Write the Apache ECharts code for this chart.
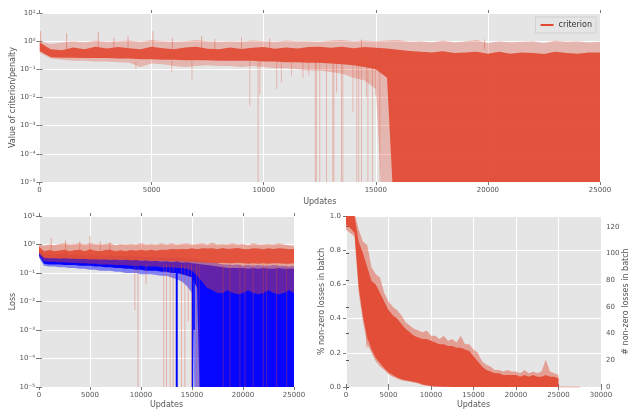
<!DOCTYPE html>
<html>
<head>
<meta charset="utf-8">
<script src="https://cdn.jsdelivr.net/npm/echarts@6.0.0/dist/echarts.min.js"></script>
<style>html,body{margin:0;padding:0;background:#fff}#main{width:630px;height:412px}</style>
</head>
<body>
<div id="main"></div>
<script>
// x positions of the read-off envelope points (updates)
var updates = [0,500,1000,1500,2000,2500,3000,3500,4000,4500,5000,5500,6000,6500,7000,7500,8000,8500,9000,9500,
  10000,10500,11000,11500,12000,12500,13000,13500,14000,14500,15000,15500,16000,16500,17000,17500,18000,18500,19000,19500,
  20000,20500,21000,21500,22000,22500,23000,23500,24000,24500,25000];

// top panel: criterion (outer fringe + dense core), 1e-9 = zero (far below the log axis)
var criterionHi = [1.0,0.8,0.9,1.0,0.9,1.05,0.95,1.0,1.05,0.95,1.1,1.0,0.95,1.0,1.1,1.0,0.95,1.0,0.95,1.05,
  1.0,0.95,1.05,1.0,1.0,0.95,1.05,1.1,1.0,1.05,1.0,1.05,1.1,0.95,1.0,0.9,1.05,0.9,1.0,1.1,
  0.85,1.0,0.9,0.95,1.0,0.85,1.05,0.95,1.0,0.9,0.95];
var criterionCoreHi = [0.9,0.52,0.48,0.6,0.52,0.64,0.55,0.62,0.56,0.52,0.64,0.56,0.52,0.6,0.64,0.54,0.52,0.6,0.53,0.58,
  0.62,0.54,0.6,0.55,0.62,0.64,0.58,0.64,0.56,0.62,0.58,0.55,0.5,0.45,0.42,0.4,0.44,0.38,0.4,0.42,
  0.36,0.42,0.36,0.4,0.38,0.35,0.42,0.38,0.36,0.4,0.4];
var criterionCoreLo = [0.45,0.27,0.26,0.26,0.25,0.25,0.25,0.24,0.24,0.23,0.23,0.22,0.22,0.21,0.21,0.21,0.2,0.2,0.2,0.2,
  0.19,0.19,0.18,0.18,0.17,0.17,0.16,0.15,0.14,0.12,0.1,0.05,1e-9,1e-9,1e-9,1e-9,1e-9,1e-9,1e-9,1e-9,
  1e-9,1e-9,1e-9,1e-9,1e-9,1e-9,1e-9,1e-9,1e-9,1e-9,1e-9];
var criterionLo = [0.4,0.24,0.22,0.2,0.2,0.19,0.19,0.18,0.17,0.12,0.16,0.15,0.13,0.12,0.13,0.14,0.13,0.13,0.12,0.13,
  0.12,0.11,0.11,0.1,0.09,0.09,0.08,0.07,0.05,0.04,0.02,1e-9,1e-9,1e-9,1e-9,1e-9,1e-9,1e-9,1e-9,1e-9,
  1e-9,1e-9,1e-9,1e-9,1e-9,1e-9,1e-9,1e-9,1e-9,1e-9,1e-9];
var criterionSpikes = [[50,2.3],[1210,1.9],[2620,2.1],[3320,1.3],[3950,1.5],[5060,2.3],[5930,1.3],[7230,1.5],
  [7820,1.2],[9010,1.35],[10270,1.25],[14360,1.15],[19850,1.15]];
var criterionDrops = [[4300,0.1],[5900,0.08],[6800,0.045],[9380,0.005],[9750,1e-9],[9830,0.013],[10580,0.02],[10790,0.035],[11240,0.06],
  [11750,0.05],[12010,0.06],[12300,1e-9],[12350,1e-9],[12500,1e-9],[12800,1e-9],[13080,1e-9],[13130,1e-9],
  [13250,0.015],[13470,1e-9],[13530,1e-9],[13980,0.003],[14150,1e-9],[14240,1e-9],[14360,1e-9],[14580,0.01],
  [14650,1e-9],[14850,1e-9],[15000,0.012],[15180,1e-9]];

// bottom left: loss (red) and loss (blue)
var lossRedHi = [1.0,0.9,1.0,0.95,1.05,1.1,1.0,1.05,1.1,1.0,1.1,1.05,1.0,1.05,1.1,0.95,1.05,1.0,1.05,1.0,
  1.1,1.0,1.05,1.0,1.1,1.0,1.1,1.0,1.05,1.1,1.0,1.05,1.1,1.0,1.15,1.0,1.05,1.0,1.1,1.0,
  1.05,0.95,1.1,1.0,1.0,1.05,1.0,1.1,1.0,0.95,0.9];
var lossRedCoreHi = [0.85,0.58,0.64,0.58,0.62,0.66,0.58,0.63,0.66,0.58,0.68,0.6,0.58,0.64,0.66,0.58,0.63,0.58,0.64,0.6,
  0.65,0.6,0.66,0.6,0.66,0.64,0.7,0.68,0.7,0.68,0.74,0.68,0.74,0.72,0.74,0.68,0.76,0.7,0.72,0.76,
  0.7,0.68,0.74,0.72,0.68,0.74,0.7,0.74,0.72,0.68,0.7];
var lossRedCoreLo = [0.5,0.34,0.33,0.33,0.32,0.32,0.32,0.31,0.31,0.31,0.3,0.3,0.3,0.3,0.29,0.29,0.29,0.29,0.28,0.28,
  0.28,0.28,0.27,0.27,0.27,0.27,0.26,0.26,0.26,0.25,0.25,0.24,0.24,0.23,0.23,0.22,0.23,0.22,0.22,0.23,
  0.22,0.21,0.22,0.21,0.22,0.21,0.22,0.22,0.21,0.21,0.22];
var lossRedLo = [0.45,0.26,0.25,0.25,0.24,0.24,0.23,0.23,0.22,0.22,0.21,0.21,0.2,0.2,0.2,0.19,0.19,0.19,0.18,0.18,
  0.18,0.17,0.17,0.17,0.16,0.16,0.16,0.15,0.15,0.14,0.12,0.08,0.05,0.03,0.025,0.02,0.02,0.025,0.02,0.018,
  0.02,0.025,0.02,0.018,0.02,0.025,0.02,0.018,0.02,0.025,0.02];
var lossRedSpikes = [[1200,1.7],[2600,1.4],[4000,1.3],[5000,2.0],[6000,1.3],[6940,1.2]];
var lossRedDrops = [[9400,0.005],[9700,1e-9],[10500,0.04],[12240,1e-9],[12500,1e-9],[12850,1e-9],[13150,1e-9],
  [13970,1e-9],[14300,1e-9],[14630,0.002],[14950,1e-9],[15450,1e-9],[15700,1e-9],
  [18060,1e-9],[18720,1e-9],[19700,1e-9],[20190,1e-9],[21000,1e-9],[21990,1e-9],[22320,1e-9],[23300,1e-9],[24280,1e-9]];
var lossBlueHi = [0.7,0.45,0.45,0.42,0.45,0.5,0.42,0.45,0.42,0.4,0.45,0.4,0.42,0.4,0.42,0.38,0.4,0.38,0.4,0.37,
  0.38,0.36,0.37,0.35,0.36,0.34,0.35,0.33,0.34,0.32,0.32,0.3,0.28,0.26,0.24,0.22,0.2,0.2,0.19,0.2,
  0.18,0.19,0.18,0.19,0.18,0.18,0.19,0.18,0.18,0.17,0.18];
var lossBlueCoreHi = [0.55,0.36,0.33,0.35,0.32,0.35,0.32,0.34,0.31,0.33,0.31,0.32,0.3,0.31,0.29,0.31,0.28,0.3,0.28,0.29,
  0.27,0.28,0.26,0.27,0.25,0.26,0.24,0.26,0.23,0.24,0.22,0.21,0.2,0.19,0.18,0.17,0.16,0.15,0.15,0.15,
  0.15,0.14,0.15,0.14,0.15,0.14,0.14,0.15,0.14,0.14,0.14];
var lossBlueCoreLo = [0.4,0.21,0.2,0.2,0.2,0.19,0.19,0.19,0.18,0.18,0.18,0.17,0.17,0.16,0.16,0.15,0.15,0.14,0.14,0.13,
  0.13,0.12,0.12,0.12,0.11,0.11,0.1,0.1,0.09,0.08,0.07,0.03,1e-9,1e-9,1e-9,1e-9,1e-9,1e-9,1e-9,1e-9,
  1e-9,1e-9,1e-9,1e-9,1e-9,1e-9,1e-9,1e-9,1e-9,1e-9,1e-9];
var lossBlueLo = [0.35,0.18,0.17,0.17,0.16,0.16,0.15,0.15,0.14,0.14,0.13,0.13,0.12,0.12,0.12,0.11,0.11,0.1,0.1,0.1,
  0.09,0.09,0.09,0.085,0.08,0.08,0.07,0.06,0.05,0.035,0.02,1e-9,1e-9,1e-9,1e-9,1e-9,1e-9,1e-9,1e-9,1e-9,
  1e-9,1e-9,1e-9,1e-9,1e-9,1e-9,1e-9,1e-9,1e-9,1e-9,1e-9];
var lossBlueDrops = [[13480,1e-9],[13520,1e-9],[15050,1e-9],[15200,0.001]];

// bottom right: fraction of non-zero losses in batch
var fracHi = [1.02,1.02,1.02,0.92,0.85,0.83,0.7,0.66,0.64,0.55,0.5,0.47,0.45,0.42,0.38,0.36,0.34,0.33,0.32,0.33,
  0.3,0.3,0.28,0.3,0.27,0.28,0.26,0.3,0.25,0.25,0.22,0.2,0.15,0.13,0.12,0.1,0.1,0.09,0.1,0.09,
  0.09,0.08,0.1,0.08,0.09,0.08,0.09,0.16,0.09,0.08,0.07];
var fracCoreHi = [1.0,1.0,1.0,0.85,0.78,0.7,0.62,0.6,0.55,0.5,0.45,0.42,0.4,0.37,0.34,0.32,0.3,0.29,0.28,0.28,
  0.27,0.26,0.25,0.25,0.24,0.24,0.23,0.23,0.22,0.21,0.18,0.15,0.12,0.1,0.09,0.08,0.08,0.07,0.07,0.07,
  0.07,0.06,0.07,0.06,0.07,0.06,0.06,0.07,0.06,0.06,0.05];
var fracCoreLo = [0.95,0.93,0.9,0.58,0.41,0.29,0.22,0.17,0.14,0.11,0.085,0.07,0.055,0.045,0.04,0.035,0.03,0.025,0.015,0.01,
  0.006,0.004,0.003,0.002,0.001,0,0,0,0,0,0,0,0,0,0,0,0,0,0,0,
  0,0,0,0,0,0,0,0,0,0,0];
var fracLo = [0.92,0.9,0.88,0.55,0.38,0.25,0.2,0.15,0.12,0.1,0.075,0.06,0.05,0.04,0.035,0.03,0.025,0.02,0.012,0.008,
  0.005,0,0,0,0,0,0,0,0,0,0,0,0,0,0,0,0,0,0,0,
  0,0,0,0,0,0,0,0,0,0,0];
var fracDrops = [[2450,0.23]];
var tailUpdates = [25000, 27500];
var tailValues = [0, 0];

var RED = '#E24A33';
var TXT = '#555';
var FONT = 'DejaVu Sans';

function clipOf(params) {
    var cs = params.coordSys;
    return { type: 'rect', shape: { x: cs.x, y: cs.y, width: cs.width, height: cs.height } };
}

// filled envelope drawn as one polygon through the axis scales
function band(xi, yi, lo, hi, fill) {
    return {
        type: 'custom', xAxisIndex: xi, yAxisIndex: yi, silent: true, clip: true,
        data: updates.map(function (u, i) { return [u, lo[i], hi[i]]; }),
        renderItem: function (params, api) {
            if (params.dataIndex !== 0) return;
            var pts = [], i;
            for (i = 0; i < updates.length; i++) pts.push(api.coord([updates[i], hi[i]]));
            for (i = updates.length - 1; i >= 0; i--) pts.push(api.coord([updates[i], lo[i]]));
            return { type: 'polygon', shape: { points: pts }, style: { fill: fill }, clipPath: clipOf(params) };
        }
    };
}

// single thin spikes leaving the band (up or down)
function spikes(xi, yi, list, from, stroke, width) {
    return {
        type: 'custom', xAxisIndex: xi, yAxisIndex: yi, silent: true, clip: true,
        data: list,
        renderItem: function (params, api) {
            var p0 = api.coord([api.value(0), from]);
            var p1 = api.coord([api.value(0), api.value(1)]);
            return { type: 'line', shape: { x1: p0[0], y1: p0[1], x2: p1[0], y2: p1[1] },
                     style: { stroke: stroke, lineWidth: width }, clipPath: clipOf(params) };
        }
    };
}

var SUP = { '-': '\u207B', '0': '\u2070', '1': '\u00B9', '2': '\u00B2', '3': '\u00B3', '4': '\u2074', '5': '\u2075' };
function logLabel(v) {
    var e = Math.round(Math.log(v) / Math.LN10);
    return '10' + String(e).split('').map(function (c) { return SUP[c]; }).join('');
}

var labelStyle = { fontSize: 7, color: TXT, fontFamily: FONT };
var nameStyle = { fontSize: 8, color: TXT, fontFamily: FONT };
var gridLine = { show: true, lineStyle: { color: '#fff', width: 1 } };
var tickStyle = { show: true, length: 3, lineStyle: { color: '#777' } };

function xAx(grid, max, gap) {
    return {
        type: 'value', gridIndex: grid, min: 0, max: max, interval: 5000,
        name: 'Updates', nameLocation: 'middle', nameGap: gap, nameTextStyle: nameStyle, nameMoveOverlap: false,
        axisLine: { show: false }, axisTick: tickStyle,
        axisLabel: Object.assign({ margin: 5, formatter: function (v) { return String(v); } }, labelStyle),
        splitLine: gridLine
    };
}
// tick marks only, on the opposite side (matplotlib draws ticks on all four sides)
function tickOnlyX(grid, max) {
    return { type: 'value', gridIndex: grid, position: 'top', min: 0, max: max, interval: 5000,
             axisLine: { show: false }, axisTick: tickStyle, axisLabel: { show: false }, splitLine: { show: false } };
}
function tickOnlyLog(grid) {
    return { type: 'log', logBase: 10, gridIndex: grid, position: 'right', min: 1e-5, max: 10, splitNumber: 6,
             axisLine: { show: false }, axisTick: tickStyle, axisLabel: { show: false }, splitLine: { show: false } };
}
function logAx(grid, name, gap) {
    return {
        type: 'log', logBase: 10, gridIndex: grid, position: 'left', min: 1e-5, max: 10, splitNumber: 6,
        name: name, nameLocation: 'middle', nameGap: gap, nameRotate: 90, nameTextStyle: nameStyle, nameMoveOverlap: false,
        axisLine: { show: false }, axisTick: tickStyle,
        axisLabel: Object.assign({ margin: 4, formatter: logLabel }, labelStyle), splitLine: gridLine
    };
}
function gridBox(left, top, width, height) {
    return { left: left, top: top, width: width, height: height, show: true, backgroundColor: '#E5E5E5',
             borderWidth: 0, containLabel: false, outerBoundsMode: 'none' };
}

var chart = echarts.init(document.getElementById('main'), null, { renderer: 'canvas' });
chart.setOption({
    animation: false,
    backgroundColor: '#fff',
    textStyle: { fontFamily: FONT },
    grid: [gridBox(39.5, 13, 560.5, 169), gridBox(39, 216, 255, 171), gridBox(346, 216, 255, 171)],
    legend: {
        right: 34, top: 17, data: [{ name: 'criterion', icon: 'rect' }],
        itemWidth: 13, itemHeight: 2, itemGap: 0,
        textStyle: { fontSize: 8, color: '#333', fontFamily: FONT },
        backgroundColor: '#E5E5E5', borderColor: '#d0d0d0', borderWidth: 1, padding: [4, 4, 4, 5]
    },
    xAxis: [xAx(0, 25000, 16), xAx(1, 25000, 14), xAx(2, 30000, 14),
            tickOnlyX(0, 25000), tickOnlyX(1, 25000), tickOnlyX(2, 30000)],
    yAxis: [
        logAx(0, 'Value of criterion/penalty', 23),
        logAx(1, 'Loss', 22),
        {
            type: 'value', gridIndex: 2, position: 'left', min: 0, max: 1, interval: 0.2,
            name: '% non-zero losses in batch', nameLocation: 'middle', nameGap: 20, nameRotate: 90, nameTextStyle: nameStyle,
            nameMoveOverlap: false,
            axisLine: { show: false }, axisTick: tickStyle,
            axisLabel: Object.assign({ margin: 5, formatter: function (v) { return v.toFixed(1); } }, labelStyle),
            splitLine: gridLine
        },
        {
            type: 'value', gridIndex: 2, position: 'right', min: 0, max: 128, interval: 20,
            name: '# non-zero losses in batch', nameLocation: 'middle', nameGap: 21, nameRotate: 90, nameTextStyle: nameStyle,
            nameMoveOverlap: false,
            axisLine: { show: false }, axisTick: { show: true, length: 3, lineStyle: { color: '#555' } },
            axisLabel: Object.assign({ margin: 5, showMaxLabel: false }, labelStyle),
            splitLine: { show: false }
        },
        tickOnlyLog(0), tickOnlyLog(1)
    ],
    series: [
        { type: 'line', name: 'criterion', xAxisIndex: 0, yAxisIndex: 0, data: [], color: RED },
        band(0, 0, criterionLo, criterionHi, 'rgba(226,74,51,0.3)'),
        spikes(0, 0, criterionSpikes, 0.5, 'rgba(226,74,51,0.4)', 1),
        spikes(0, 0, criterionDrops, 0.2, 'rgba(226,74,51,0.3)', 1),
        band(0, 0, criterionCoreLo, criterionCoreHi, 'rgba(226,74,51,0.92)'),

        band(1, 1, lossBlueLo, lossBlueHi, 'rgba(0,0,255,0.45)'),
        band(1, 1, lossBlueCoreLo, lossBlueCoreHi, 'rgba(0,0,255,0.95)'),
        spikes(1, 1, lossBlueDrops, 0.1, 'rgba(0,0,255,0.95)', 1.5),
        band(1, 1, lossRedLo, lossRedHi, 'rgba(226,74,51,0.42)'),
        spikes(1, 1, lossRedSpikes, 0.5, 'rgba(226,74,51,0.4)', 1),
        spikes(1, 1, lossRedDrops, 0.2, 'rgba(226,74,51,0.35)', 1),
        band(1, 1, lossRedCoreLo, lossRedCoreHi, 'rgba(226,74,51,0.9)'),

        band(2, 2, fracLo, fracHi, 'rgba(226,74,51,0.45)'),
        spikes(2, 2, fracDrops, 0.4, 'rgba(226,74,51,0.45)', 1),
        band(2, 2, fracCoreLo, fracCoreHi, 'rgba(226,74,51,0.95)'),
        {
            type: 'line', xAxisIndex: 2, yAxisIndex: 2, showSymbol: false, silent: true,
            data: tailUpdates.map(function (u, i) { return [u, tailValues[i]]; }),
            lineStyle: { color: 'rgba(226,74,51,0.3)', width: 1.5 }
        }
    ]
});
</script>
</body>
</html>
